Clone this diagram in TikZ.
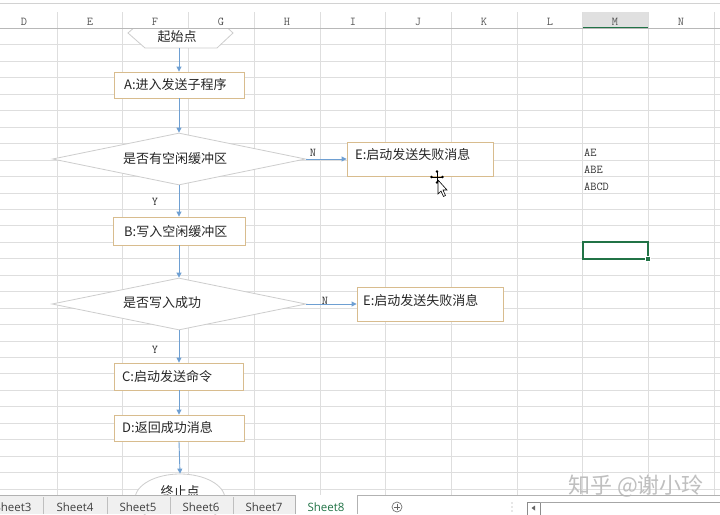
\documentclass[tikz,border=0pt]{standalone}
\usepackage{fontspec}
\setmainfont{Noto Sans CJK SC}
\newfontfamily\tabfont{Open Sans}
\usetikzlibrary{shapes.geometric,arrows.meta,calc}
\definecolor{gridc}{HTML}{DEDEDE}
\definecolor{boxc}{HTML}{D8BC8E}
\definecolor{dmc}{HTML}{CDCDCD}
\definecolor{arrc}{HTML}{6E9FD2}
\definecolor{xlgreen}{HTML}{217346}
\definecolor{hdrtext}{HTML}{555555}
\definecolor{tabbg}{HTML}{F0F0F0}
\tikzset{
  gridline/.style={draw=gridc, line width=0.6pt},
  box/.style={draw=boxc, fill=white, line width=0.9pt, inner sep=0pt},
  dmd/.style={diamond, draw=dmc, fill=white, line width=0.8pt, inner sep=0pt},
  flow/.style={draw=arrc, line width=0.9pt, -{Triangle[length=5pt,width=5pt]}},
  cjk/.style={font=\fontsize{13}{15}\selectfont, text=black!85, inner sep=0pt},
  mono/.style={font=\ttfamily\fontsize{12}{14}\selectfont, inner sep=0pt, text=black!80},
  hdr/.style={font=\ttfamily\fontsize{12}{14}\selectfont, inner sep=0pt, text=hdrtext},
  tab/.style={font=\tabfont\fontsize{11.5}{13}\selectfont, inner sep=0pt, text=black!75},
}
\begin{document}
\begin{tikzpicture}[x=1pt,y=-1pt]
\useasboundingbox (0,0) rectangle (720,514);
\fill[white] (0,0) rectangle (720,514);
% grid
\foreach \k in {0,...,10} \draw[gridline] ({57+65.7*\k},12) -- ({57+65.7*\k},496);
\foreach \k in {1,...,28} \draw[gridline] (0,{28.3+16.45*\k}) -- (720,{28.3+16.45*\k});

% flowchart
\draw[draw=dmc, fill=white, line width=0.8pt] (128,33) -- (145,18) -- (217,18) -- (233,33) -- (217,48) -- (145,48) -- cycle;
\coordinate (S) at (179,48);
\node[cjk] (St) at (177,37) {起始点};

\node[box, minimum width=130, minimum height=26] (A) at (179,85) {};
\node[cjk, anchor=west] (At) at (124,85) {A:进入发送子程序};

\node[dmd, minimum width=253, minimum height=52] (D1) at (179,159) {};
\node[cjk, anchor=west] (D1t) at (123,159) {是否有空闲缓冲区};

\node[box, minimum width=146, minimum height=34] (E1) at (420,159) {};
\node[cjk, anchor=west] (E1t) at (355,155) {E:启动发送失败消息};

\node[box, minimum width=132, minimum height=28] (B) at (179,231) {};
\node[cjk, anchor=west] (Bt) at (124,232) {B:写入空闲缓冲区};

\node[dmd, minimum width=254, minimum height=52] (D2) at (179,304) {};
\node[cjk, anchor=west] (D2t) at (123,303) {是否写入成功};

\node[box, minimum width=146, minimum height=34] (E2) at (430,304) {};
\node[cjk, anchor=west] (E2t) at (363,301) {E:启动发送失败消息};

\node[box, minimum width=129, minimum height=27] (C) at (179,376.5) {};
\node[cjk, anchor=west] (Ct) at (122,377) {C:启动发送命令};

\node[box, minimum width=130, minimum height=26] (D) at (179,428) {};
\node[cjk, anchor=west] (Dt) at (122,428) {D:返回成功消息};

\node[ellipse, draw=dmc, fill=white, line width=0.8pt, minimum width=90, minimum height=50, inner sep=0pt] (End) at (180,499) {};
\node[cjk] (Endt) at (180,492) {终止点};

\draw[flow] (S) -- (A.north);
\draw[flow] (A.south) -- (D1.north);
\draw[flow] (D1.east) -- (E1.west);
\draw[flow] (D1.south) -- (B.north);
\draw[flow] (B.south) -- (D2.north);
\draw[flow] (D2.east) -- (E2.west);
\draw[flow] (D2.south) -- (C.north);
\draw[flow] (C.south) -- (D.north);
\draw[flow] (D.south) -- (End.north);

\node[mono] (N1) at (313,153) {N};
\node[mono] (Y1) at (155,202) {Y};
\node[mono] (N2) at (325,301) {N};
\node[mono] (Y2) at (155,350) {Y};

% cells in column M
\node[mono, anchor=west] (m1) at (584,153) {AE};
\node[mono, anchor=west] (m2) at (584,170) {ABE};
\node[mono, anchor=west] (m3) at (584,187) {ABCD};
\draw[xlgreen, line width=1.6pt] (583,242) rectangle (648,259);
\fill[xlgreen, draw=white, line width=0.6pt] (645.5,256.5) rectangle (650.5,261.5);

% cursor
\draw[black, line width=0.7pt] (432,177) -- (442,177) (437,172) -- (437,182);
\fill[black] (437,171.5) circle (1.3) (431.5,177) circle (1.3) (442.5,177) circle (1.3) (437,182.5) circle (1.3);
\draw[black, fill=white, line width=0.6pt] (438,180) -- (438,194) -- (441,191) -- (443.5,196.5) -- (445.5,195.5) -- (443,190) -- (447,190) -- cycle;

% header
\fill[white] (0,0) rectangle (720,28);
\draw[gray!35] (0,3.3) -- (720,3.3);
\fill[black!12] (583,12) rectangle (648,28);
\foreach \k in {0,...,10} \draw[gridline] ({57+65.7*\k},12) -- ({57+65.7*\k},28);
\draw[black!28, line width=0.7pt] (0,28) -- (720,28);
\draw[xlgreen, line width=1.6pt] (583,27.4) -- (648,27.4);
\foreach \l/\x in {D/24,E/90,F/155,G/221,H/287,I/353,J/418,K/484,L/550,M/615,N/681}
  \node[hdr] (h\l) at (\x,22) {\l};

% watermark
\node[font=\fontsize{22}{24}\selectfont, text=black!25, inner sep=0pt] (wm) at (636,486) {知乎 @谢小玲};

% sheet tab bar
\fill[tabbg] (0,495) rectangle (357,514);
\fill[white] (295,495) rectangle (357,514);
\draw[black!30] (0,495) -- (295,495) (357,495) -- (720,495);
\foreach \x in {43,107,170,233} \draw[black!25] (\x,497) -- (\x,514);
\draw[black!30] (295,495) -- (295,514) (357,495) -- (357,514);
\node[tab] (t3) at (13,507) {Sheet3};
\node[tab] (t4) at (75,507) {Sheet4};
\node[tab] (t5) at (138,507) {Sheet5};
\node[tab] (t6) at (201,507) {Sheet6};
\node[tab] (t7) at (264,507) {Sheet7};
\node[tab, text=xlgreen] (t8) at (326,507) {Sheet8};
\node[circle, draw=black!55, line width=0.7pt, minimum size=10pt, inner sep=0pt] (plus) at (397,507) {};
\draw[black!60, line width=0.8pt] (394,507) -- (400,507) (397,504) -- (397,510);
\fill[black!40] (512,503) circle (0.7) (512,507) circle (0.7) (512,511) circle (0.7);
\draw[black!45] (527,502) rectangle (540,515);
\fill[black!60] (531.5,508) -- (535,505.5) -- (535,510.5) -- cycle;
\draw[black!35] (540,502) -- (720,502);
\end{tikzpicture}
\end{document}
